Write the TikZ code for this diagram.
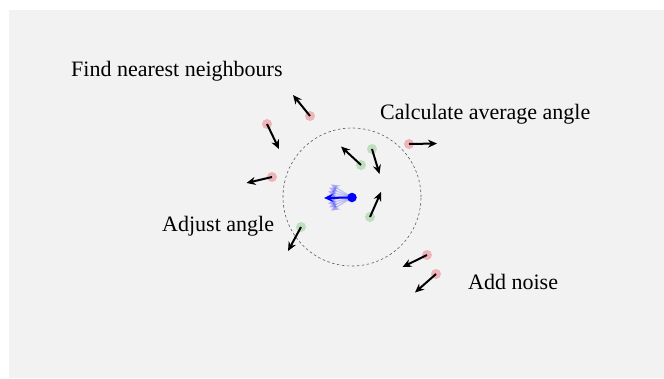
\documentclass[tikz,border=0pt]{standalone}
\usepackage{fontspec}
\setmainfont{Liberation Serif}
\usetikzlibrary{arrows.meta}
\definecolor{bggray}{HTML}{F2F2F2}
\definecolor{pinkdot}{HTML}{EDB5BA}
\definecolor{greendot}{HTML}{BFDDBF}
\begin{document}
\begin{tikzpicture}[x=1pt,y=-1pt,
  lbl/.style={anchor=base west,inner sep=0pt,font=\fontsize{22}{26}\selectfont},
  rdot/.style={circle,fill=pinkdot,inner sep=0pt,minimum size=10pt},
  gdot/.style={circle,fill=greendot,inner sep=0pt,minimum size=10pt},
  arr/.style={draw=black,line width=2pt,-{Stealth[length=9pt,width=8pt]}},
  barr/.style={draw=blue,line width=2pt,-{Stealth[length=9pt,width=8pt]}},
  fan/.style={draw=blue,opacity=0.2,line width=1.3pt,-{Stealth[length=9pt,width=8pt]}}]
\useasboundingbox (0,0) rectangle (664,378);
\fill[white] (0,0) rectangle (664,378);
\fill[bggray] (9,10) rectangle (664,378);

% neighbourhood
\node[circle,draw=black!65,dash pattern=on 2.5pt off 2.5pt,line width=0.6pt,minimum size=138pt,inner sep=0pt] (zone) at (352,197) {};

% labels
\node[lbl] (t1) at (71,76) {Find nearest neighbours};
\node[lbl] (t2) at (380,119) {Calculate average angle};
\node[lbl] (t3) at (162,231) {Adjust angle};
\node[lbl] (t4) at (468,289) {Add noise};

% red (outside) particles
\node[rdot] (r1) at (310,116) {}; \coordinate (r1t) at (293,95);
\node[rdot] (r2) at (267,124) {}; \coordinate (r2t) at (279,149);
\node[rdot] (r3) at (272,177) {}; \coordinate (r3t) at (246.5,183);
\node[rdot] (r4) at (409,144) {}; \coordinate (r4t) at (437,143.5);
\node[rdot] (r5) at (427,255) {}; \coordinate (r5t) at (402.5,267);
\node[rdot] (r6) at (436,274) {}; \coordinate (r6t) at (415,292.5);

% green (inside) particles
\node[gdot] (g1) at (372,149) {}; \coordinate (g1t) at (379.5,174);
\node[gdot] (g2) at (361,165) {}; \coordinate (g2t) at (341,146.5);
\node[gdot] (g3) at (370,217) {}; \coordinate (g3t) at (381,192);
\node[gdot] (g4) at (301,227) {}; \coordinate (g4t) at (288,251);

\foreach \n in {r1,r2,r3,r4,r5,r6,g1,g2,g3,g4}
  \draw[arr] (\n.center) -- (\n t);

% focal particle
\coordinate (b) at (352,197.5);
\foreach \a in {148,157,166,175,185,194,203,212}
  \draw[fan] (b) -- ++(\a:25pt);
\coordinate (bt) at (324,198);
\draw[barr] (b) -- (bt);
\node[circle,fill=blue,inner sep=0pt,minimum size=9.5pt] (bd) at (b) {};
\end{tikzpicture}
\end{document}
